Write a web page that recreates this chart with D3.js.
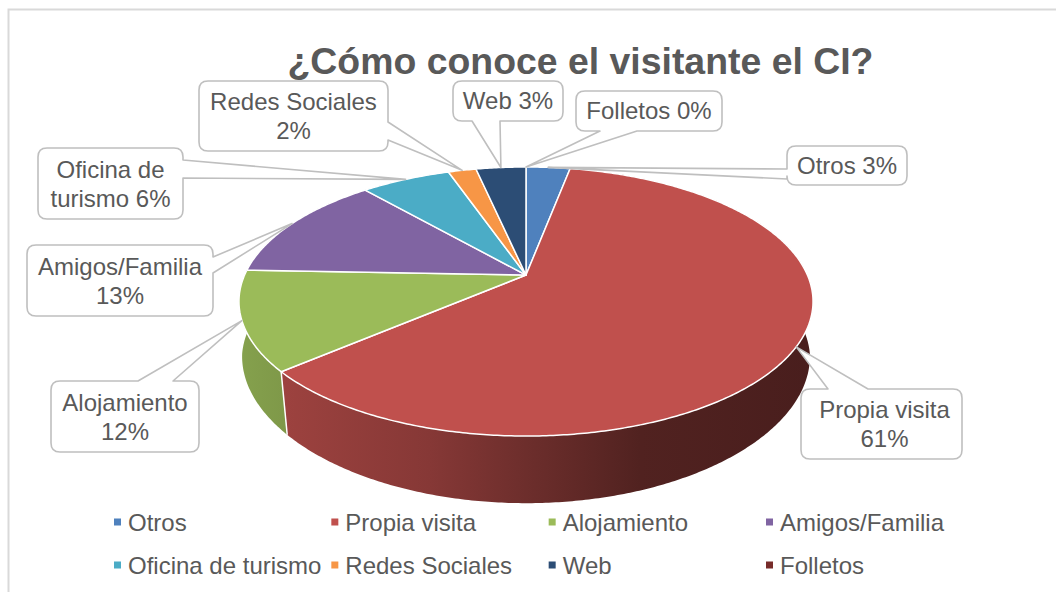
<!DOCTYPE html>
<html>
<head>
<meta charset="utf-8">
<script src="https://d3js.org/d3.v7.min.js"></script>
<style>
  html, body { margin: 0; padding: 0; background: #fff; }
  svg { display: block; }
  text { font-family: "Liberation Sans", Arial, sans-serif; fill: #595959; }
</style>
</head>
<body>
<svg width="1056" height="592"></svg>
<script>
// chart data (labels show the rounded percents)
const categories = ["Otros", "Propia visita", "Alojamiento", "Amigos/Familia", "Oficina de turismo", "Redes Sociales", "Web", "Folletos"];
const percents = [3.0, 60.7, 11.9, 13.0, 6.1, 1.9, 3.4, 0];
const colors = ["#4f81bd", "#c0504d", "#9bbb59", "#8064a2", "#4bacc6", "#f79646", "#2c4d75", "#772c2a"];
const labelLines = [["Otros 3%"], ["Propia visita", "61%"], ["Alojamiento", "12%"], ["Amigos/Familia", "13%"], ["Oficina de", "turismo 6%"], ["Redes Sociales", "2%"], ["Web 3%"], ["Folletos 0%"]];

// callout boxes [x, y, w, h], where the pointer leaves the box, and text nudge
const calloutBoxes = [[787, 146, 120, 39], [801, 389, 161, 70], [51, 381, 148, 71], [27, 245, 186, 71], [38, 148, 145, 71], [199, 81, 189, 70], [453, 81, 110, 40], [576, 91, 146, 40]];
const calloutBases = [["left", 169, 179], ["top", 828, 868], ["top", 138, 173], ["right", 257, 273], ["right", 160, 178], ["right", 122, 140], ["bottom", 472, 500], ["bottom", 600, 637]];
const calloutNudge = [0, 3, 0, 0, 0, 0, 0, 0];

const svg = d3.select("svg");

// chart frame, only top and left edges are in the shot
svg.append("path")
    .attr("d", "M8.5,592V9.5H1056")
    .attr("fill", "none")
    .attr("stroke", "#d9d9d9")
    .attr("stroke-width", 2);

// title
svg.append("text")
    .attr("x", 580.5)
    .attr("y", 74)
    .attr("text-anchor", "middle")
    .attr("font-size", 37.4)
    .attr("font-weight", "bold")
    .text("¿Cómo conoce el visitante el CI?");

// perspective projection of the pie disc
const apexX = 526, apexY = 275;
const persp = 0.197, scaleU = 281.4, scaleV = 129.3;

function topPoint(angle) {
    const u = Math.sin(angle), v = -Math.cos(angle);
    const w = 1 - persp * v;
    return [apexX + scaleU * u / w, apexY + scaleV * v / w];
}

// the lower rim is a lower copy of the top rim, narrowing toward the viewer
function bottomPoint(angle) {
    const p = topPoint(angle);
    const dy = p[1] - apexY;
    const narrow = 0.99 - 0.015 * Math.max(0, dy - 20) / 78;
    return [apexX + (p[0] - apexX) * narrow, apexY + dy * 1.063 + 57];
}

function rim(pointFn, a0, a1) {
    const n = Math.max(2, Math.ceil((a1 - a0) / 0.01));
    return d3.range(n + 1).map(i => pointFn(a0 + (a1 - a0) * i / n));
}

const line = d3.line();

const slices = d3.pie()
    .sort(null)
    .startAngle(0)
    .endAngle(2 * Math.PI)
    .value(d => d)(percents);

// side wall gradients, same light falloff for each slice
const defs = svg.append("defs");
const falloff = [[239, 0.86], [282, 0.82], [430, 0.70], [526, 0.57], [640, 0.42], [813, 0.38]];

slices.forEach(function (s, i) {
    const base = d3.color(colors[i]);
    const grad = defs.append("linearGradient")
        .attr("id", "wall" + i)
        .attr("gradientUnits", "userSpaceOnUse")
        .attr("x1", 239).attr("x2", 813)
        .attr("y1", 0).attr("y2", 0);
    falloff.forEach(function (f) {
        grad.append("stop")
            .attr("offset", (f[0] - 239) / (813 - 239))
            .attr("stop-color", d3.rgb(base.r * f[1], base.g * f[1], base.b * f[1]));
    });
});

const visible = slices.map((s, i) => ({ s: s, i: i })).filter(d => d.s.value > 0);

// walls first, the top faces cover the back part of them
svg.append("g")
    .selectAll("path")
    .data(visible)
    .enter()
    .append("path")
    .attr("d", function (d) {
        const pts = rim(topPoint, d.s.startAngle, d.s.endAngle)
            .concat(rim(bottomPoint, d.s.startAngle, d.s.endAngle).reverse());
        return line(pts) + "Z";
    })
    .attr("fill", d => "url(#wall" + d.i + ")")
    .attr("stroke", "none");

// white seam between the walls of Propia visita and Alojamiento
const seamAngle = slices[1].endAngle;
svg.append("path")
    .attr("d", line([topPoint(seamAngle), bottomPoint(seamAngle)]))
    .attr("stroke", "#fff")
    .attr("stroke-width", 1.5);

// top faces
svg.append("g")
    .selectAll("path")
    .data(visible)
    .enter()
    .append("path")
    .attr("d", function (d) {
        const pts = [[apexX, apexY]].concat(rim(topPoint, d.s.startAngle, d.s.endAngle));
        return line(pts) + "Z";
    })
    .attr("fill", d => colors[d.i])
    .attr("stroke", "#fff")
    .attr("stroke-width", 1.5)
    .attr("stroke-linejoin", "round");

// rounded box with a pointer running to the tip
function calloutPath(box, base, tip) {
    const x = box[0], y = box[1], w = box[2], h = box[3], r = 9;
    const x2 = x + w, y2 = y + h;
    const side = base[0], b0 = base[1], b1 = base[2];
    let d = "M" + (x + r) + "," + y;
    if (side == "top") d += "H" + b0 + "L" + tip + "L" + b1 + "," + y;
    d += "H" + (x2 - r) + "Q" + x2 + "," + y + " " + x2 + "," + (y + r);
    if (side == "right") d += "V" + b0 + "L" + tip + "L" + x2 + "," + b1;
    d += "V" + (y2 - r) + "Q" + x2 + "," + y2 + " " + (x2 - r) + "," + y2;
    if (side == "bottom") d += "H" + b1 + "L" + tip + "L" + b0 + "," + y2;
    d += "H" + (x + r) + "Q" + x + "," + y2 + " " + x + "," + (y2 - r);
    if (side == "left") d += "V" + b1 + "L" + tip + "L" + x + "," + b0;
    d += "V" + (y + r) + "Q" + x + "," + y + " " + (x + r) + "," + y + "Z";
    return d;
}

// data labels, the pointer tip sits on the rim at the middle of the slice
const callouts = svg.append("g")
    .selectAll("g")
    .data(slices)
    .enter()
    .append("g");

callouts.append("path")
    .attr("d", (s, i) => calloutPath(calloutBoxes[i], calloutBases[i], topPoint((s.startAngle + s.endAngle) / 2)))
    .attr("fill", "#fff")
    .attr("fill-opacity", 1)
    .attr("stroke", "#bfbfbf")
    .attr("stroke-width", 1.6)
    .attr("stroke-linejoin", "round");

callouts.each(function (s, i) {
    const box = calloutBoxes[i];
    const lines = labelLines[i];
    const cx = box[0] + box[2] / 2 + calloutNudge[i], cy = box[1] + box[3] / 2;
    const first = lines.length == 1 ? cy + 8 : cy - 6;
    lines.forEach(function (t, k) {
        d3.select(this).append("text")
            .attr("x", cx)
            .attr("y", first + k * 29)
            .attr("text-anchor", "middle")
            .attr("font-size", 24)
            .text(t);
    }, this);
});

// legend, four columns by two rows
const legendX = d3.scalePoint().domain(d3.range(4)).range([114, 766]);
const legendY = d3.scalePoint().domain(d3.range(2)).range([522, 565]);

const legend = svg.append("g")
    .selectAll("g")
    .data(categories)
    .enter()
    .append("g")
    .attr("transform", (d, i) => "translate(" + legendX(i % 4) + "," + legendY(Math.floor(i / 4)) + ")");

legend.append("rect")
    .attr("x", 0)
    .attr("y", -3.5)
    .attr("width", 7)
    .attr("height", 7)
    .attr("fill", (d, i) => colors[i]);

legend.append("text")
    .attr("x", 14)
    .attr("y", 8.5)
    .attr("font-size", 24)
    .text(d => d);
</script>
</body>
</html>
